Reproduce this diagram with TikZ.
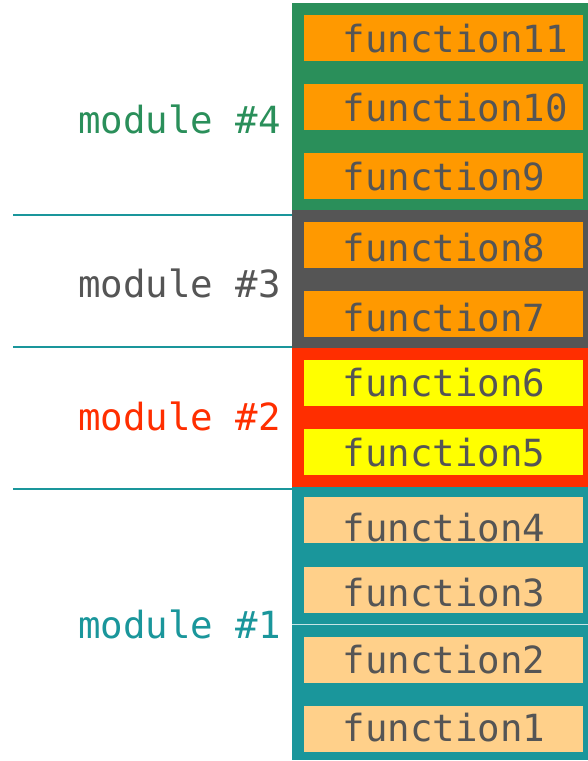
\documentclass[tikz,border=0pt]{standalone}
\usepackage{fontspec}
\setmonofont{DejaVu Sans Mono}
\definecolor{cgreen}{HTML}{2A8F5A}
\definecolor{cgray}{HTML}{555555}
\definecolor{cred}{HTML}{FF2E00}
\definecolor{cteal}{HTML}{1A969B}
\definecolor{corange}{HTML}{FF9900}
\definecolor{cyellow}{HTML}{FFFF00}
\definecolor{clight}{HTML}{FFD08A}
\definecolor{ctext}{HTML}{555555}
\tikzset{
  modbar/.style={rectangle, draw=none, inner sep=0pt, minimum width=296pt},
  fbox/.style={rectangle, draw=none, inner sep=0pt, minimum width=279pt, minimum height=46pt},
  ftext/.style={anchor=base west, inner sep=0pt, text=ctext, font=\fontsize{37.4}{40}\ttfamily},
  mlabel/.style={anchor=base east, inner sep=0pt, font=\fontsize{37.4}{40}\ttfamily},
  sep/.style={draw=cteal, line width=2pt},
}
\begin{document}
\begin{tikzpicture}[x=1pt,y=-1pt]
\useasboundingbox (0,0) rectangle (588,761);
% module bars
\node[modbar, fill=cgreen, minimum height=207pt] (m4) at (440,106.5) {};
\node[modbar, fill=cgray, minimum height=138pt] (m3) at (440,279) {};
\node[modbar, fill=cred, minimum height=139pt] (m2) at (440,417.5) {};
\node[modbar, fill=cteal, minimum height=273pt] (m1) at (440,623.5) {};
% thin split line in module 1
\coordinate (s1a) at (292,624.5);
\coordinate (s1b) at (588,624.5);
\draw[draw=white!75!cteal, line width=1pt] (s1a) -- (s1b);
% function boxes
\node[fbox, fill=corange] (f11) at (443.5,38) {};
\node[fbox, fill=corange] (f10) at (443.5,107) {};
\node[fbox, fill=corange] (f9) at (443.5,175.5) {};
\node[fbox, fill=corange] (f8) at (443.5,245) {};
\node[fbox, fill=corange] (f7) at (443.5,314) {};
\node[fbox, fill=cyellow] (f6) at (443.5,383) {};
\node[fbox, fill=cyellow] (f5) at (443.5,452) {};
\node[fbox, fill=clight] (f4) at (443.5,520) {};
\node[fbox, fill=clight] (f3) at (443.5,589.5) {};
\node[fbox, fill=clight] (f2) at (443.5,659.7) {};
\node[fbox, fill=clight] (f1) at (443.5,729) {};
% function texts
\node[ftext] (t11) at (342.5,52.3) {function11};
\node[ftext] (t10) at (342.5,121) {function10};
\node[ftext] (t9) at (342.5,190) {function9};
\node[ftext] (t8) at (342.5,261.7) {function8};
\node[ftext] (t7) at (342.5,331) {function7};
\node[ftext] (t6) at (342.5,396.7) {function6};
\node[ftext] (t5) at (342.5,466.7) {function5};
\node[ftext] (t4) at (342.5,541.7) {function4};
\node[ftext] (t3) at (342.5,606.7) {function3};
\node[ftext] (t2) at (342.5,673.3) {function2};
\node[ftext] (t1) at (342.5,741.7) {function1};
% module labels
\node[mlabel, text=cgreen] (l4) at (281,133) {module \#4};
\node[mlabel, text=cgray] (l3) at (281,297) {module \#3};
\node[mlabel, text=cred] (l2) at (281,430) {module \#2};
\node[mlabel, text=cteal] (l1) at (281,638) {module \#1};
% separators
\coordinate (a4) at (13,214.5);
\coordinate (a3) at (13,347);
\coordinate (a2) at (13,489);
\draw[sep] (a4) -- (a4 -| m4.west);
\draw[sep] (a3) -- (a3 -| m3.west);
\draw[sep] (a2) -- (a2 -| m2.west);
\end{tikzpicture}
\end{document}
